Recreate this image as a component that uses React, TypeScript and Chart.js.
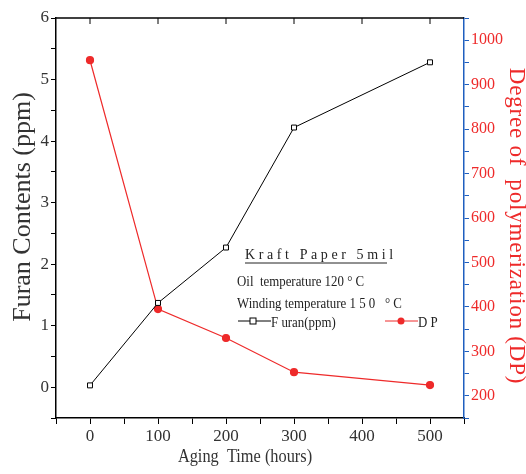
import React, { useEffect, useRef } from "react";
import { Chart, registerables } from "chart.js";

Chart.register(...registerables);

const agingHours = [0, 100, 200, 300, 500];
const furanPpm = [0.03, 1.37, 2.27, 4.22, 5.28];
const dpValues = [955, 395, 330, 253, 224];

const xTitle = "Aging  Time (hours)";
const yTitle = "Furan Contents (ppm)";
const y1Title = "Degree of  polymerization (DP)";

const RED = "#ee2a2a";
const BLUE = "#1f5fbf";
const SERIF = "'Liberation Serif', 'DejaVu Serif', serif";

function condensedText(ctx: any, text: string, x: number, y: number, sx: number) {
  ctx.save();
  ctx.translate(x, y);
  ctx.scale(sx, 1);
  ctx.fillText(text, 0, 0);
  ctx.restore();
}

const overlayPlugin = {
  id: "overlay",
  afterDraw(chart: any) {
    const ctx = chart.ctx;
    const { left, right, top } = chart.chartArea;
    const xs = chart.scales.x;
    ctx.save();
    // top border
    ctx.strokeStyle = "#000";
    ctx.lineWidth = 1.5;
    ctx.beginPath();
    ctx.moveTo(left, top);
    ctx.lineTo(right, top);
    ctx.stroke();
    ctx.lineWidth = 1;
    for (let v = 0; v <= 500; v += 100) {
      const px = xs.getPixelForValue(v);
      ctx.beginPath();
      ctx.moveTo(px, top);
      ctx.lineTo(px, top + 6);
      ctx.stroke();
    }

    // axis titles
    ctx.textAlign = "center";
    ctx.textBaseline = "middle";
    ctx.fillStyle = "#333";
    ctx.font = `26px ${SERIF}`;
    ctx.save();
    ctx.translate(23, 207);
    ctx.rotate(-Math.PI / 2);
    ctx.fillText(yTitle, 0, 0);
    ctx.restore();

    ctx.fillStyle = RED;
    ctx.font = `23px ${SERIF}`;
    (ctx as any).letterSpacing = "0.8px";
    ctx.save();
    ctx.translate(516, 226);
    ctx.rotate(Math.PI / 2);
    ctx.fillText(y1Title, 0, 0);
    ctx.restore();
    (ctx as any).letterSpacing = "0px";

    ctx.fillStyle = "#333";
    ctx.font = `19px ${SERIF}`;
    ctx.textBaseline = "alphabetic";
    condensedText(ctx, xTitle, 245, 462, 0.86);

    // legend / annotation text
    ctx.textAlign = "left";
    const bx = left + 181;
    const by = top + 238;
    const sx = 0.92;
    ctx.fillStyle = "#222";
    ctx.font = `14px ${SERIF}`;
    (ctx as any).letterSpacing = "3.6px";
    condensedText(ctx, "Kraft Paper 5mil", bx + 8, by + 3, 1);
    (ctx as any).letterSpacing = "0px";
    ctx.strokeStyle = "#222";
    ctx.beginPath();
    ctx.moveTo(bx + 8, by + 7);
    ctx.lineTo(bx + 150, by + 7);
    ctx.stroke();
    condensedText(ctx, "Oil  temperature 120 \u00b0 C", bx, by + 30, sx);
    condensedText(ctx, "Winding temperature 1 5 0   \u00b0 C", bx, by + 52, sx);
    // furan legend
    const ly = by + 65;
    ctx.strokeStyle = "#000";
    ctx.beginPath();
    ctx.moveTo(bx + 1, ly);
    ctx.lineTo(bx + 34, ly);
    ctx.stroke();
    ctx.fillStyle = "#fff";
    ctx.fillRect(bx + 13, ly - 3, 6, 6);
    ctx.strokeRect(bx + 13, ly - 3, 6, 6);
    ctx.fillStyle = "#222";
    condensedText(ctx, "F uran(ppm)", bx + 34, ly + 6, sx);
    // DP legend
    const dx = bx + 148;
    ctx.strokeStyle = RED;
    ctx.beginPath();
    ctx.moveTo(dx, ly);
    ctx.lineTo(dx + 33, ly);
    ctx.stroke();
    ctx.fillStyle = RED;
    ctx.beginPath();
    ctx.arc(dx + 16, ly, 3.5, 0, Math.PI * 2);
    ctx.fill();
    ctx.fillStyle = "#222";
    condensedText(ctx, "D P", dx + 33, ly + 6, sx);
    ctx.restore();
  },
};

export default function App() {
  const ref = useRef<HTMLCanvasElement>(null);
  useEffect(() => {
    if (!ref.current) return;
    const chart = new Chart(ref.current, {
      type: "line",
      data: {
        datasets: [
          {
            label: "Furan(ppm)",
            data: agingHours.map((h, i) => ({ x: h, y: furanPpm[i] })),
            yAxisID: "y",
            borderColor: "#000",
            borderWidth: 1,
            pointStyle: "rect",
            pointRadius: 3.5,
            pointBackgroundColor: "#fff",
            pointBorderColor: "#000",
            pointBorderWidth: 1,
            tension: 0,
          },
          {
            label: "DP",
            data: agingHours.map((h, i) => ({ x: h, y: dpValues[i] })),
            yAxisID: "y1",
            borderColor: RED,
            borderWidth: 1.2,
            pointStyle: "circle",
            pointRadius: 3.5,
            pointBackgroundColor: RED,
            pointBorderColor: RED,
            tension: 0,
          },
        ],
      },
      options: {
        animation: false,
        responsive: true,
        maintainAspectRatio: false,
        layout: { padding: { top: 18, left: 8, right: 8, bottom: 8 } },
        plugins: { legend: { display: false }, tooltip: { enabled: false } },
        scales: {
          x: {
            type: "linear",
            min: -50,
            max: 550,
            afterFit: (s: any) => {
              s.height = 48;
            },
            border: { color: "#000", width: 1.5 },
            grid: { drawOnChartArea: false, drawTicks: true, tickLength: 6, color: "#000" },
            ticks: {
              stepSize: 50,
              autoSkip: false,
              maxRotation: 0,
              padding: 2,
              color: "#333",
              font: { family: SERIF, size: 17 },
              callback: (v: any) => (v % 100 === 0 && v >= 0 && v <= 500 ? String(v) : ""),
            },
          },
          y: {
            type: "linear",
            position: "left",
            min: -0.5,
            max: 6,
            afterFit: (s: any) => {
              s.width = 48;
            },
            border: { color: "#000", width: 1.5 },
            grid: { drawOnChartArea: false, drawTicks: true, tickLength: 5, color: "#000" },
            ticks: {
              stepSize: 0.5,
              autoSkip: false,
              padding: 2,
              color: "#333",
              font: { family: SERIF, size: 17 },
              callback: (v: any) => (Number.isInteger(v) && v >= 0 ? String(v) : ""),
            },
          },
          y1: {
            type: "linear",
            position: "right",
            min: 150,
            max: 1050,
            afterFit: (s: any) => {
              s.width = 54;
            },
            border: { color: BLUE, width: 1.5 },
            grid: { drawOnChartArea: false, drawTicks: true, tickLength: 5, color: BLUE },
            ticks: {
              stepSize: 50,
              autoSkip: false,
              padding: 2,
              color: RED,
              font: { family: SERIF, size: 16 },
              callback: (v: any) => (v % 100 === 0 && v >= 200 && v <= 1000 ? String(v) : ""),
            },
          },
        },
      } as any,
      plugins: [overlayPlugin],
    });
    return () => chart.destroy();
  }, []);
  return (
    <div style={{ position: "absolute", left: 0, top: 0, width: 526, height: 474 }}>
      <canvas ref={ref} />
    </div>
  );
}
